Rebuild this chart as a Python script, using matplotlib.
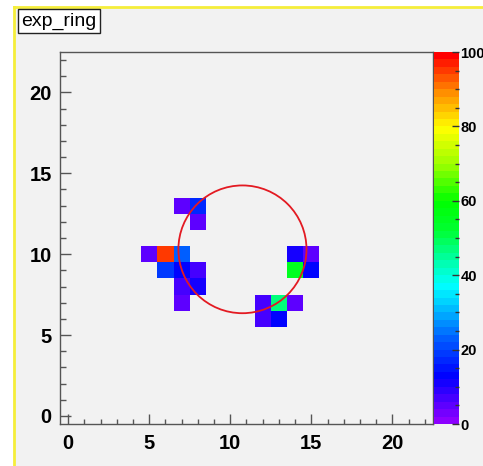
import numpy as np
import matplotlib
matplotlib.use("Agg")
import matplotlib.pyplot as plt
from matplotlib.colors import LinearSegmentedColormap
from matplotlib.patches import Rectangle, Circle
from matplotlib.lines import Line2D
from matplotlib.ticker import MultipleLocator

# Hit pixels: bin centres and their counts
hit_x = [7, 8, 8, 5, 6, 7, 6, 7, 8, 7, 8, 7, 14, 15, 14, 15, 12, 13, 14, 12, 13]
hit_y = [13, 13, 12, 10, 10, 10, 9, 9, 9, 8, 8, 7, 10, 10, 9, 9, 7, 7, 7, 6, 6]
hit_counts = [5, 17, 5, 5, 95, 23, 18, 12, 6, 6, 11, 5, 11, 5, 55, 12, 6, 46, 5, 6, 12]

# Fitted ring
ring_center = (10.75, 10.3)
ring_radius = 3.95

n_bins = 23
x_ticks = [0, 5, 10, 15, 20]
y_ticks = [0, 5, 10, 15, 20]
z_ticks = [0, 20, 40, 60, 80, 100]

W, H = 483, 466
fig = plt.figure(figsize=(W / 100, H / 100), dpi=100, facecolor="white")

def fx(px):
    return px / W

def fy(py):
    return 1 - py / H

canvas_bg = "#f2f2f2"
# canvas pad with yellow border on its left and top
fig.patches.append(Rectangle((fx(14), 0), 1 - fx(14), fy(7), transform=fig.transFigure,
                             facecolor=canvas_bg, edgecolor="none", zorder=-3))
fig.lines.append(Line2D([fx(14), fx(14)], [0, fy(7)], transform=fig.transFigure,
                        color="#f5ee3a", lw=2, zorder=-2))
fig.lines.append(Line2D([fx(14), 1], [fy(7), fy(7)], transform=fig.transFigure,
                        color="#f5ee3a", lw=2, zorder=-2))

# ROOT-like rainbow palette
stops = [
    (0.00, (0.55, 0.00, 1.00)),
    (0.12, (0.00, 0.00, 1.00)),
    (0.22, (0.00, 0.35, 1.00)),
    (0.32, (0.00, 0.80, 1.00)),
    (0.37, (0.00, 1.00, 1.00)),
    (0.43, (0.00, 1.00, 0.70)),
    (0.52, (0.00, 1.00, 0.20)),
    (0.60, (0.00, 1.00, 0.00)),
    (0.70, (0.60, 1.00, 0.00)),
    (0.80, (1.00, 1.00, 0.00)),
    (0.90, (1.00, 0.55, 0.00)),
    (1.00, (1.00, 0.00, 0.00)),
]
cmap = LinearSegmentedColormap.from_list("root_rainbow", stops, N=50)

grid = np.full((n_bins, n_bins), np.nan)
for x, y, c in zip(hit_x, hit_y, hit_counts):
    grid[y, x] = c
edges = np.arange(n_bins + 1) - 0.5

ax = fig.add_axes([fx(60), fy(424), fx(433) - fx(60), fy(52) - fy(424)])
ax.set_facecolor(canvas_bg)
mesh = ax.pcolormesh(edges, edges, grid, cmap=cmap, vmin=0, vmax=100)
ax.add_patch(Circle(ring_center, ring_radius, fill=False, ec="#e31a22", lw=1.3))
ax.set_xlim(-0.5, 22.5)
ax.set_ylim(-0.5, 22.5)

for s in ax.spines.values():
    s.set_color("#555555")
    s.set_linewidth(1.0)

tick_font = dict(family="Liberation Sans", weight="bold", size=14.5)
ax.set_xticks(x_ticks)
ax.set_yticks(y_ticks)
ax.set_xticklabels([str(t) for t in x_ticks], **tick_font)
ax.set_yticklabels([str(t) for t in y_ticks], **tick_font)
ax.xaxis.set_minor_locator(MultipleLocator(1))
ax.yaxis.set_minor_locator(MultipleLocator(1))
ax.tick_params(which="both", direction="in", top=False, right=False, color="#555555")
ax.tick_params(axis="x", which="major", length=7, width=1, pad=7)
ax.tick_params(axis="x", which="minor", length=3.5, width=1)
ax.tick_params(axis="y", which="major", length=8, width=1, pad=6)
ax.tick_params(axis="y", which="minor", length=4, width=1)

# colour scale
cax = fig.add_axes([fx(434), fy(424), fx(459) - fx(434), fy(52) - fy(424)])
cb = fig.colorbar(mesh, cax=cax)
cb.outline.set_visible(False)
cb.set_ticks(z_ticks)
cb.ax.yaxis.set_minor_locator(MultipleLocator(5))
cax.tick_params(which="both", direction="in", color="#333333", right=True, left=False)
cax.tick_params(which="major", length=5, width=1, pad=1)
cax.tick_params(which="minor", length=3, width=1)
cax.set_yticklabels([str(t) for t in z_ticks], family="Liberation Sans", weight="bold", size=10.5)

# title box
fig.text(fx(21), fy(21), "exp_ring", ha="left", va="center",
         family="Liberation Sans", size=14, color="black",
         bbox=dict(boxstyle="square,pad=0.18", facecolor="white", edgecolor="#222222", lw=1.0))

fig.savefig("out.png", dpi=100, facecolor="white")
